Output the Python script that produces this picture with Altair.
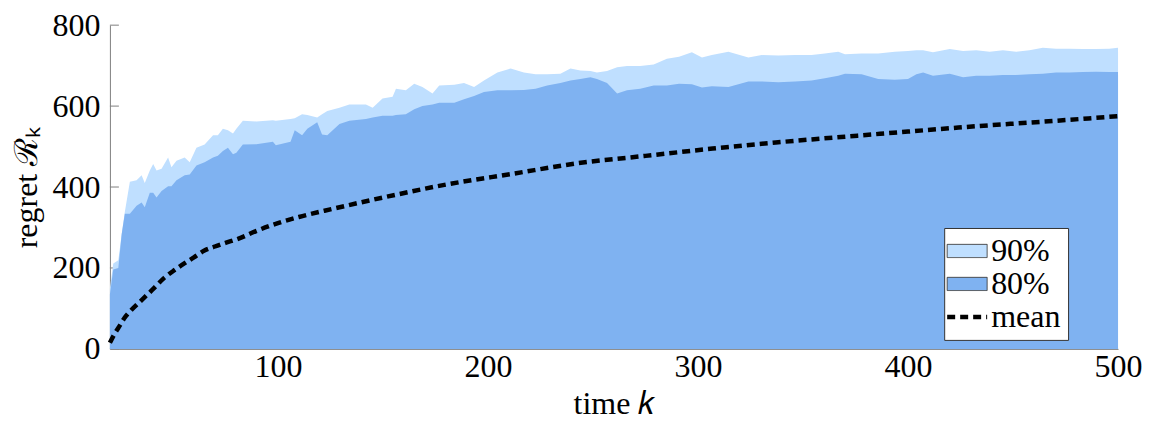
import altair as alt
import pandas as pd

# ---- data ----
K = [20, 21.6, 24, 25.6, 27.1, 29.5, 32.7, 35.1, 36.6, 39, 40.6, 42.2, 44.6, 47.7, 49.3,
     51.7, 55.6, 58, 61.2, 65.1, 69.1, 71.4, 73.8, 76.2, 78.6, 80.2, 83.3, 89.7, 97.6, 99,
     106, 108, 111.5, 114, 118.7, 121, 123.5, 129.3, 134, 141.9, 145.1, 149.8, 154.6, 156.2,
     160.9, 164.9, 168.8, 173.6, 176.8, 184, 188.6, 193.4, 198.1, 204.5, 210.8, 217.1, 222.7,
     228.2, 234.5, 239.3, 244, 248.8, 251.9, 256.7, 261.5, 266.2, 272.5, 278.9, 285.2, 291,
     297.1, 301.9, 306.6, 314.5, 324, 330.4, 338.3, 346.2, 354.1, 360.4, 366.8, 370, 377.9,
     385.8, 393.7, 400, 404, 407.2, 411.9, 419.9, 426.2, 432.5, 438.9, 445.2, 451.5, 457.8,
     464.2, 470.5, 476.8, 483.2, 489.5, 495.8, 500]

P90 = [150, 211, 219, 283, 338, 413, 417, 429, 410, 441, 457, 441, 445, 473, 449,
       465, 473, 461, 497, 505, 528, 528, 544, 540, 532, 544, 564, 562, 565, 564,
       568, 570, 580, 578, 572, 580, 588, 596, 604, 604, 596, 619, 623, 643,
       639, 655, 647, 631, 651, 653, 657, 647, 663, 683, 693, 683, 679,
       679, 680, 693, 688, 687, 683, 687, 696, 699, 699, 703, 717, 722,
       733, 720, 726, 734, 720, 726, 725, 726, 726, 730, 734, 728, 730,
       730, 734, 736, 738, 738, 733, 741, 736, 738, 734, 738, 734, 738,
       744, 742, 742, 741, 741, 742, 744]

P80 = [135, 196, 200, 283, 334, 334, 354, 362, 350, 386, 386, 374, 390, 402, 402,
       417, 429, 431, 453, 461, 473, 477, 489, 497, 481, 485, 505, 506, 512, 503,
       512, 540, 528, 544, 560, 530, 528, 556, 564, 568, 572, 576, 576, 578,
       580, 592, 600, 604, 608, 608, 617, 625, 635, 639, 639, 640, 643,
       651, 657, 663, 667, 671, 667, 657, 631, 639, 643, 651, 651, 655,
       654, 646, 649, 647, 661, 661, 659, 661, 663, 669, 675, 680, 679,
       667, 665, 667, 679, 683, 675, 680, 671, 675, 675, 677, 677, 679,
       680, 683, 683, 684, 685, 684, 684]

MEAN_K = [20, 22, 25, 27, 30, 35, 40, 46, 50, 56, 60, 65, 70, 75, 81, 90, 100, 110,
          126, 150, 180, 212, 243, 275, 307, 337, 376, 400, 424, 471, 500]
MEAN_V = [15, 35, 60, 77, 95, 120, 145, 176, 192, 213, 226, 243, 253, 262, 272, 292, 311, 326,
          346, 374, 406, 433, 459, 477, 495, 510, 527, 537, 547, 564, 575]

SERIES = ["90%", "80%", "mean"]
COLORS = ["#bfdfff", "#7fb2f1", "transparent"]
Y_TICKS = [0, 200, 400, 600, 800]
X_TICKS = [100, 200, 300, 400, 500]

FONT = "Liberation Serif"
FS = 32

df90 = pd.DataFrame({"k": K, "v": P90, "series": "90%"})
df80 = pd.DataFrame({"k": K, "v": P80, "series": "80%"})
dfm = pd.DataFrame({"k": MEAN_K, "v": MEAN_V})
dft = pd.DataFrame({"v": Y_TICKS})

xscale = alt.Scale(domain=[20, 500], nice=False, zero=False)
yscale = alt.Scale(domain=[0, 800], nice=False)


def xenc():
    return alt.X("k:Q", scale=xscale,
                 axis=alt.Axis(values=X_TICKS, title="time 𝑘", labelPadding=3,
                               titlePadding=6, labelFlush=False))


def yenc(field="v:Q"):
    return alt.Y(field, scale=yscale, stack=None,
                 axis=alt.Axis(values=Y_TICKS, title="regret ℛₖ", labelPadding=10,
                               titlePadding=8, labelFlush=False))


IS_MEAN = "datum.value === 'mean'"
legend = alt.Legend(
    title=None, orient="none", legendX=835, legendY=203,
    fillColor="white", strokeColor="#333333", padding=7,
    labelFont=FONT, labelFontSize=FS, labelColor="black", labelOffset=8,
    symbolSize=1600, rowPadding=1, symbolOpacity=1,
    symbolType={"expr": f"{IS_MEAN} ? 'stroke' : 'M-1,-0.33H1V0.33H-1Z'"},
    symbolStrokeColor={"expr": f"{IS_MEAN} ? '#000000' : '#404040'"},
    symbolStrokeWidth={"expr": f"{IS_MEAN} ? 4.5 : 1"},
    symbolDash={"expr": f"{IS_MEAN} ? [8, 5] : [1, 0]"},
)
fill = alt.Fill("series:N", scale=alt.Scale(domain=SERIES, range=COLORS), legend=legend)

ticks = alt.Chart(dft).mark_rule(color="#808080", strokeWidth=1).encode(
    y=yenc(), x=alt.value(0), x2=alt.value(9))

a90 = alt.Chart(df90).mark_area(opacity=1, interpolate="linear").encode(
    x=xenc(), y=yenc(), fill=fill)
a80 = alt.Chart(df80).mark_area(opacity=1, interpolate="linear").encode(
    x=xenc(), y=yenc(), fill=fill)

mean = alt.Chart(dfm).mark_line(color="black", strokeWidth=4.5, strokeDash=[8, 5],
                                interpolate="monotone").encode(x=xenc(), y=yenc())

chart = alt.layer(ticks, a90, a80, mean).properties(
    width=1009, height=324,
    padding={"left": 102, "top": 17, "right": 32, "bottom": 74},
    autosize=alt.AutoSizeParams(type="none"),
).configure(font=FONT).configure_view(stroke=None).configure_axis(
    domainColor="#808080", domainWidth=1, ticks=False, tickSize=0, grid=False,
    labelFont=FONT, labelFontSize=FS, labelColor="black",
    titleFont=FONT, titleFontSize=FS, titleFontWeight="normal", titleColor="black",
    zindex=1,
).configure_legend(
    labelFont=FONT, labelFontSize=FS, labelColor="black",
)

chart.save("out.html", embed_options={"renderer": "svg", "actions": False})
